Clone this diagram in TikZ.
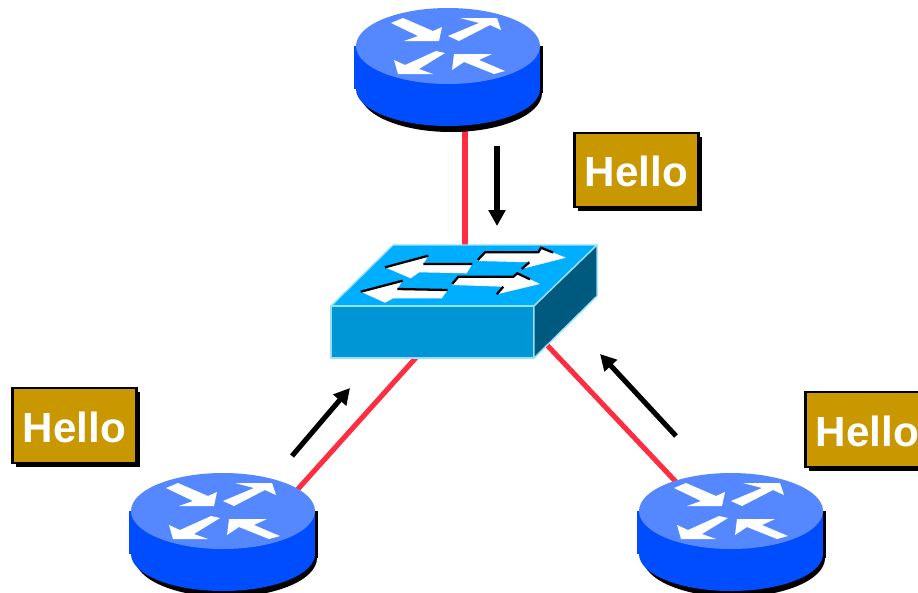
\documentclass[tikz,border=0pt]{standalone}
\usepackage{fontspec}
\setmainfont{Liberation Sans}
\usetikzlibrary{arrows.meta,shadows}
\definecolor{routerTopColor}{RGB}{85,136,255}
\definecolor{routerSideColor}{RGB}{0,76,255}
\definecolor{switchTopColor}{RGB}{0,174,255}
\definecolor{switchFrontColor}{RGB}{0,149,213}
\definecolor{switchSideColor}{RGB}{0,90,128}
\definecolor{switchEdgeColor}{RGB}{150,225,250}
\definecolor{helloColor}{RGB}{201,151,0}
\definecolor{linkColor}{RGB}{255,45,65}
\tikzstyle{canvas} = [x = .02cm, y = -.02cm]
\tikzstyle{linkLine} = [color=linkColor, line width=2.9pt]
\tikzstyle{helloArrow} = [color=black, line width=2.9pt, -{Stealth[length=.32cm, width=.33cm, inset=0pt]}]
\tikzstyle{helloBox} = [draw=black, line width=1.4pt, fill=helloColor, minimum width=2.48cm, minimum height=1.49cm, text height=.66cm, text depth=0pt, text=white, font=\fontsize{24}{24}\selectfont\bfseries, drop shadow={shadow xshift=.07cm, shadow yshift=-.08cm, fill=black, opacity=1}]
\tikzstyle{switchFace} = [draw=switchEdgeColor, line width=.8pt, line join=round]
\tikzstyle{switchEdge} = [color=black, line width=1.3pt]
\newcommand{\router}[3]{
  \begin{scope}[shift={(#2,#3)}]
    \coordinate (#1) at (0,0);
    \fill [black] (3,47) ellipse [x radius=91, y radius=39];
    \fill [black] (-90,0) rectangle (95,47);
    \fill [routerSideColor] (0,43) ellipse [x radius=92, y radius=37];
    \fill [routerSideColor] (-94,0) rectangle (92,43);
    \fill [routerTopColor] (0,0) ellipse [x radius=92, y radius=38];
    \fill [white] (-57,-23) -- (-45,-28) -- (-15,-15) -- (-6,-19) -- (-9,-5) -- (-44,-5) -- (-30,-10) -- cycle;
    \fill [white] (0,-10) -- (31,-23) -- (12,-28) -- (49,-28) -- (53,-16) -- (42,-21) -- (11,-5) -- cycle;
    \fill [white] (-3,7) -- (-12,5) -- (-43,19) -- (-54,14) -- (-50,28) -- (-15,28) -- (-29,23) -- cycle;
    \fill [white] (57,25) -- (46,28) -- (16,16) -- (4,24) -- (6,8) -- (44,8) -- (31,14) -- cycle;
  \end{scope}
}
\begin{document}
\begin{tikzpicture}[canvas]
  \useasboundingbox (0,0) rectangle (918,592);
  % link ends
  \coordinate (topPort) at (465,100);
  \coordinate (leftPort) at (280,509);
  \coordinate (rightPort) at (694,501);
  \coordinate (switchTopPort) at (465,280);
  \coordinate (switchLeftPort) at (430,342);
  \coordinate (switchRightPort) at (530,327);
  \draw [linkLine] (topPort) -- (switchTopPort);
  \draw [linkLine] (leftPort) -- (switchLeftPort);
  \draw [linkLine] (rightPort) -- (switchRightPort);

  \router{routerTop}{448}{46}
  \router{routerLeft}{223}{511}
  \router{routerRight}{731}{511}

  % switch
  \filldraw [switchFace, fill=switchTopColor] (331,306) -- (393,245) -- (597,245) -- (534,306) -- cycle;
  \filldraw [switchFace, fill=switchFrontColor] (331,306) rectangle (534,358);
  \filldraw [switchFace, fill=switchSideColor] (534,306) -- (597,245) -- (597,296) -- (534,358) -- cycle;
  \fill [white] (385,267.3) -- (428.3,255.7) -- (423.3,264) -- (472.3,264) -- (466.7,273.3) -- (419.3,272.3) -- (410.7,278.3) -- cycle;
  \draw [switchEdge] (385,267.3) -- (428.3,255.7) (423.3,264) -- (472.3,264);
  \fill [white] (477.7,260) -- (485,252.3) -- (538.3,252.3) -- (541,247.7) -- (566,257.7) -- (521.7,269) -- (529.3,262.3) -- (477.7,261) -- cycle;
  \draw [switchEdge] (477.7,260) -- (485,252.3) -- (538.3,252.3) -- (541,247.7) -- (553,252.5) (521.7,269) -- (529.3,262.3);
  \fill [white] (360.7,291.7) -- (402.7,280.7) -- (397.3,289) -- (447.7,290) -- (441.7,298.3) -- (393.3,298.3) -- (385,302.7) -- cycle;
  \draw [switchEdge] (360.7,291.7) -- (402.7,280.7) (397.3,289) -- (447.7,290);
  \fill [white] (452.3,284) -- (458.3,276.7) -- (513.3,276.7) -- (517.3,273.3) -- (540,284) -- (496.7,294.3) -- (503.3,286.7) -- (452.3,285) -- cycle;
  \draw [switchEdge] (452.3,284) -- (458.3,276.7) -- (513.3,276.7) -- (517.3,273.3) -- (530,279.3) (496.7,294.3) -- (503.3,286.7);

  \node [helloBox] (helloTop) at (636.5,170) {Hello};
  \node [helloBox] (helloLeft) at (74.5,425.5) {Hello};
  \node [helloBox] (helloRight) at (867.5,429.5) {Hello};

  % arrows
  \coordinate (topStart) at (497,146);
  \coordinate (topEnd) at (497,226);
  \coordinate (leftStart) at (292,456);
  \coordinate (leftEnd) at (350,388);
  \coordinate (rightStart) at (676,436);
  \coordinate (rightEnd) at (600,354);
  \draw [helloArrow] (topStart) -- (topEnd);
  \draw [helloArrow] (leftStart) -- (leftEnd);
  \draw [helloArrow] (rightStart) -- (rightEnd);
\end{tikzpicture}
\end{document}
